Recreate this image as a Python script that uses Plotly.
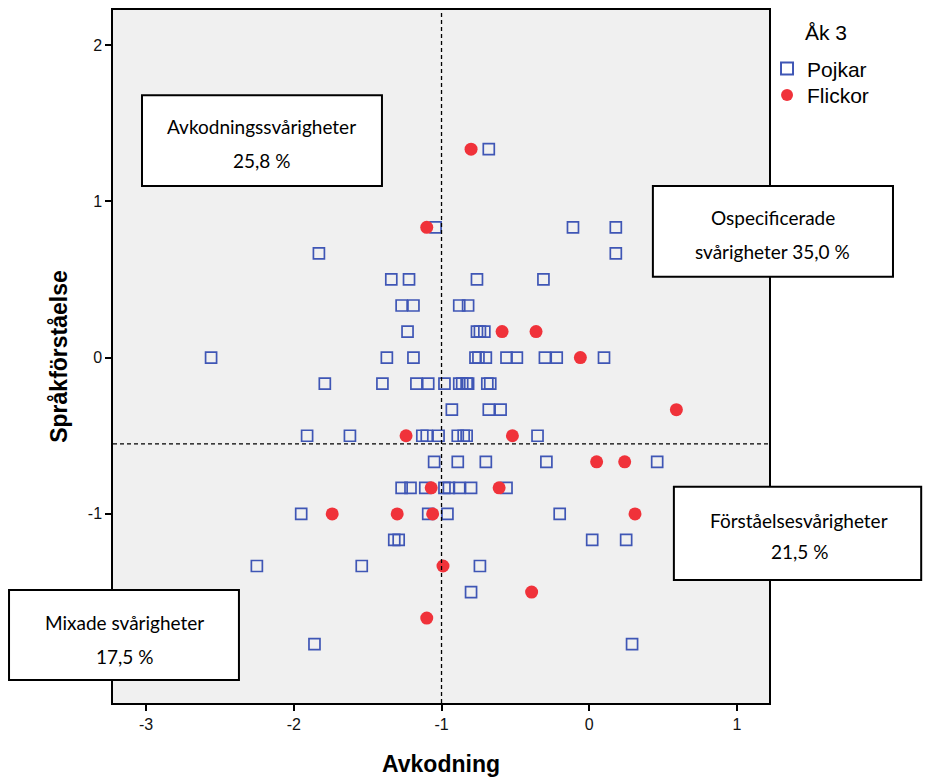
import plotly.graph_objects as go

# ---- data ----
S = 1 / 6
pojkar_x = [-0.68,
            -1.04, -0.11, 0.18,
            -1.83, 0.18,
            -1.34, -1.22, -0.76, -0.31,
            -1.27, -1.19, -0.88, -0.82,
            -1.23, -0.76, -0.74, -0.71,
            -2.56, -1.37, -1.19, -0.77, -0.75, -0.70, -0.56, -0.49, -0.30, -0.22, 0.10,
            -1.79, -1.40, -1.17, -1.09, -0.98, -0.88, -0.86, -0.83, -0.82, -0.69, -0.67,
            -0.93, -0.68, -0.60,
            -1.91, -1.62, -1.13, -1.10, -1.02, -0.89, -0.85, -0.83, -0.35,
            -1.05, -0.89, -0.70, -0.29, 0.46,
            -1.27, -1.21, -1.11, -0.98, -0.95, -0.88, -0.80, -0.56,
            -1.95, -1.09, -0.96, -0.20,
            -1.32, -1.29, 0.02, 0.25,
            -2.25, -1.54, -0.74,
            -0.80,
            -1.86, 0.29]
pojkar_y = [8 * S,
            5 * S, 5 * S, 5 * S,
            4 * S, 4 * S,
            3 * S, 3 * S, 3 * S, 3 * S,
            2 * S, 2 * S, 2 * S, 2 * S,
            1 * S, 1 * S, 1 * S, 1 * S,
            0, 0, 0, 0, 0, 0, 0, 0, 0, 0, 0,
            -1 * S, -1 * S, -1 * S, -1 * S, -1 * S, -1 * S, -1 * S, -1 * S, -1 * S, -1 * S, -1 * S,
            -2 * S, -2 * S, -2 * S,
            -3 * S, -3 * S, -3 * S, -3 * S, -3 * S, -3 * S, -3 * S, -3 * S, -3 * S,
            -4 * S, -4 * S, -4 * S, -4 * S, -4 * S,
            -5 * S, -5 * S, -5 * S, -5 * S, -5 * S, -5 * S, -5 * S, -5 * S,
            -6 * S, -6 * S, -6 * S, -6 * S,
            -7 * S, -7 * S, -7 * S, -7 * S,
            -8 * S, -8 * S, -8 * S,
            -9 * S,
            -11 * S, -11 * S]

flickor_x = [-0.80, -1.10, -0.59, -0.36, -0.06, 0.59, -1.24, -0.52, 0.05, 0.24,
             -1.07, -0.61, -1.74, -1.30, -1.06, 0.31, -0.99, -0.39, -1.10]
flickor_y = [8 * S, 5 * S, 1 * S, 1 * S, 0, -2 * S, -3 * S, -3 * S, -4 * S, -4 * S,
             -5 * S, -5 * S, -6 * S, -6 * S, -6 * S, -6 * S, -8 * S, -9 * S, -10 * S]

x_ref = -1.0
y_ref = -0.552

x_ticks = [-3, -2, -1, 0, 1]
y_ticks = [-1, 0, 1, 2]

boxes = [
    ("Avkodningssvårigheter", "25,8 %"),
    ("Ospecificerade", "svårigheter 35,0 %"),
    ("Förståelsesvårigheter", "21,5 %"),
    ("Mixade svårigheter", "17,5 %"),
]

# ---- figure ----
fig = go.Figure()
fig.add_trace(go.Scatter(
    x=pojkar_x, y=pojkar_y, mode="markers", name="Pojkar", legend="legend",
    marker=dict(symbol="square-open", size=11, color="#3f56b5", line=dict(width=1.7, color="#3f56b5")),
))
fig.add_trace(go.Scatter(
    x=flickor_x, y=flickor_y, mode="markers", name="Flickor", legend="legend2",
    marker=dict(symbol="circle", size=13, color="#f0323a", line=dict(width=0)),
))

fig.add_vline(x=x_ref, line=dict(color="black", width=1.3, dash="4px,3px"))
fig.add_hline(y=y_ref, line=dict(color="black", width=1.3, dash="4px,3px"))

# annotation boxes (paper coords): (x0, x1, y0, y1, text_cx, line1_y, line2_y)
box_geo = [
    (0.0442, 0.410, 0.746, 0.877, 0.227, 0.832, 0.783),
    (0.823, 1.189, 0.615, 0.746, 1.006, 0.700, 0.651),
    (0.855, 1.232, 0.1775, 0.312, 1.046, 0.264, 0.218),
    (-0.1585, 0.192, 0.0332, 0.163, 0.0168, 0.116, 0.0664),
]
box_font = dict(family="Lato, 'Open Sans', sans-serif", size=19, color="black")
for (l1, l2), (x0, x1, y0, y1, cx, ya, yb) in zip(boxes, box_geo):
    fig.add_shape(type="rect", xref="paper", yref="paper", x0=x0, x1=x1, y0=y0, y1=y1,
                  line=dict(color="black", width=2), fillcolor="white", layer="above")
    fig.add_annotation(xref="paper", yref="paper", x=cx, y=ya, text=l1, showarrow=False,
                       font=box_font, xanchor="center", yanchor="middle")
    fig.add_annotation(xref="paper", yref="paper", x=cx, y=yb, text=l2, showarrow=False,
                       font=box_font, xanchor="center", yanchor="middle")

fig.add_annotation(xref="paper", yref="paper", x=1.052, y=0.968, text="Åk 3", showarrow=False,
                   xanchor="left", yanchor="middle",
                   font=dict(family="Liberation Sans, Arial, sans-serif", size=21, color="black"))

axis_common = dict(
    showgrid=False, zeroline=False, showline=True, linecolor="black", linewidth=1.5,
    mirror=True, ticks="outside", ticklen=6, tickwidth=1.5, tickcolor="black", automargin=False,
    tickfont=dict(family="Liberation Sans, Arial, sans-serif", size=16, color="#111"),
)
fig.update_xaxes(range=[-3.224, 1.217], tickvals=x_ticks, ticktext=[str(v) for v in x_ticks],
                 title=dict(text="<b>Avkodning</b>", standoff=26,
                            font=dict(family="Liberation Sans, Arial, sans-serif", size=23, color="black")),
                 **axis_common)
fig.update_yaxes(range=[-2.21, 2.224], tickvals=y_ticks, ticktext=[str(v) for v in y_ticks],
                 title=dict(text="<b>Språkförståelse</b>", standoff=14,
                            font=dict(family="Liberation Sans, Arial, sans-serif", size=23, color="black")),
                 **axis_common)

legend_font = dict(family="Liberation Sans, Arial, sans-serif", size=21, color="black")
fig.update_layout(
    width=925, height=777,
    margin=dict(l=113, r=156, t=10, b=74, autoexpand=False),
    plot_bgcolor="#f0f0f0", paper_bgcolor="white",
    showlegend=True,
    legend=dict(x=0.997, y=0.915, xanchor="left", yanchor="middle", bgcolor="rgba(0,0,0,0)",
                font=legend_font, itemsizing="constant"),
    legend2=dict(x=0.997, y=0.877, xanchor="left", yanchor="middle", bgcolor="rgba(0,0,0,0)",
                 font=legend_font, itemsizing="constant"),
)

fig.write_html("out.html")
